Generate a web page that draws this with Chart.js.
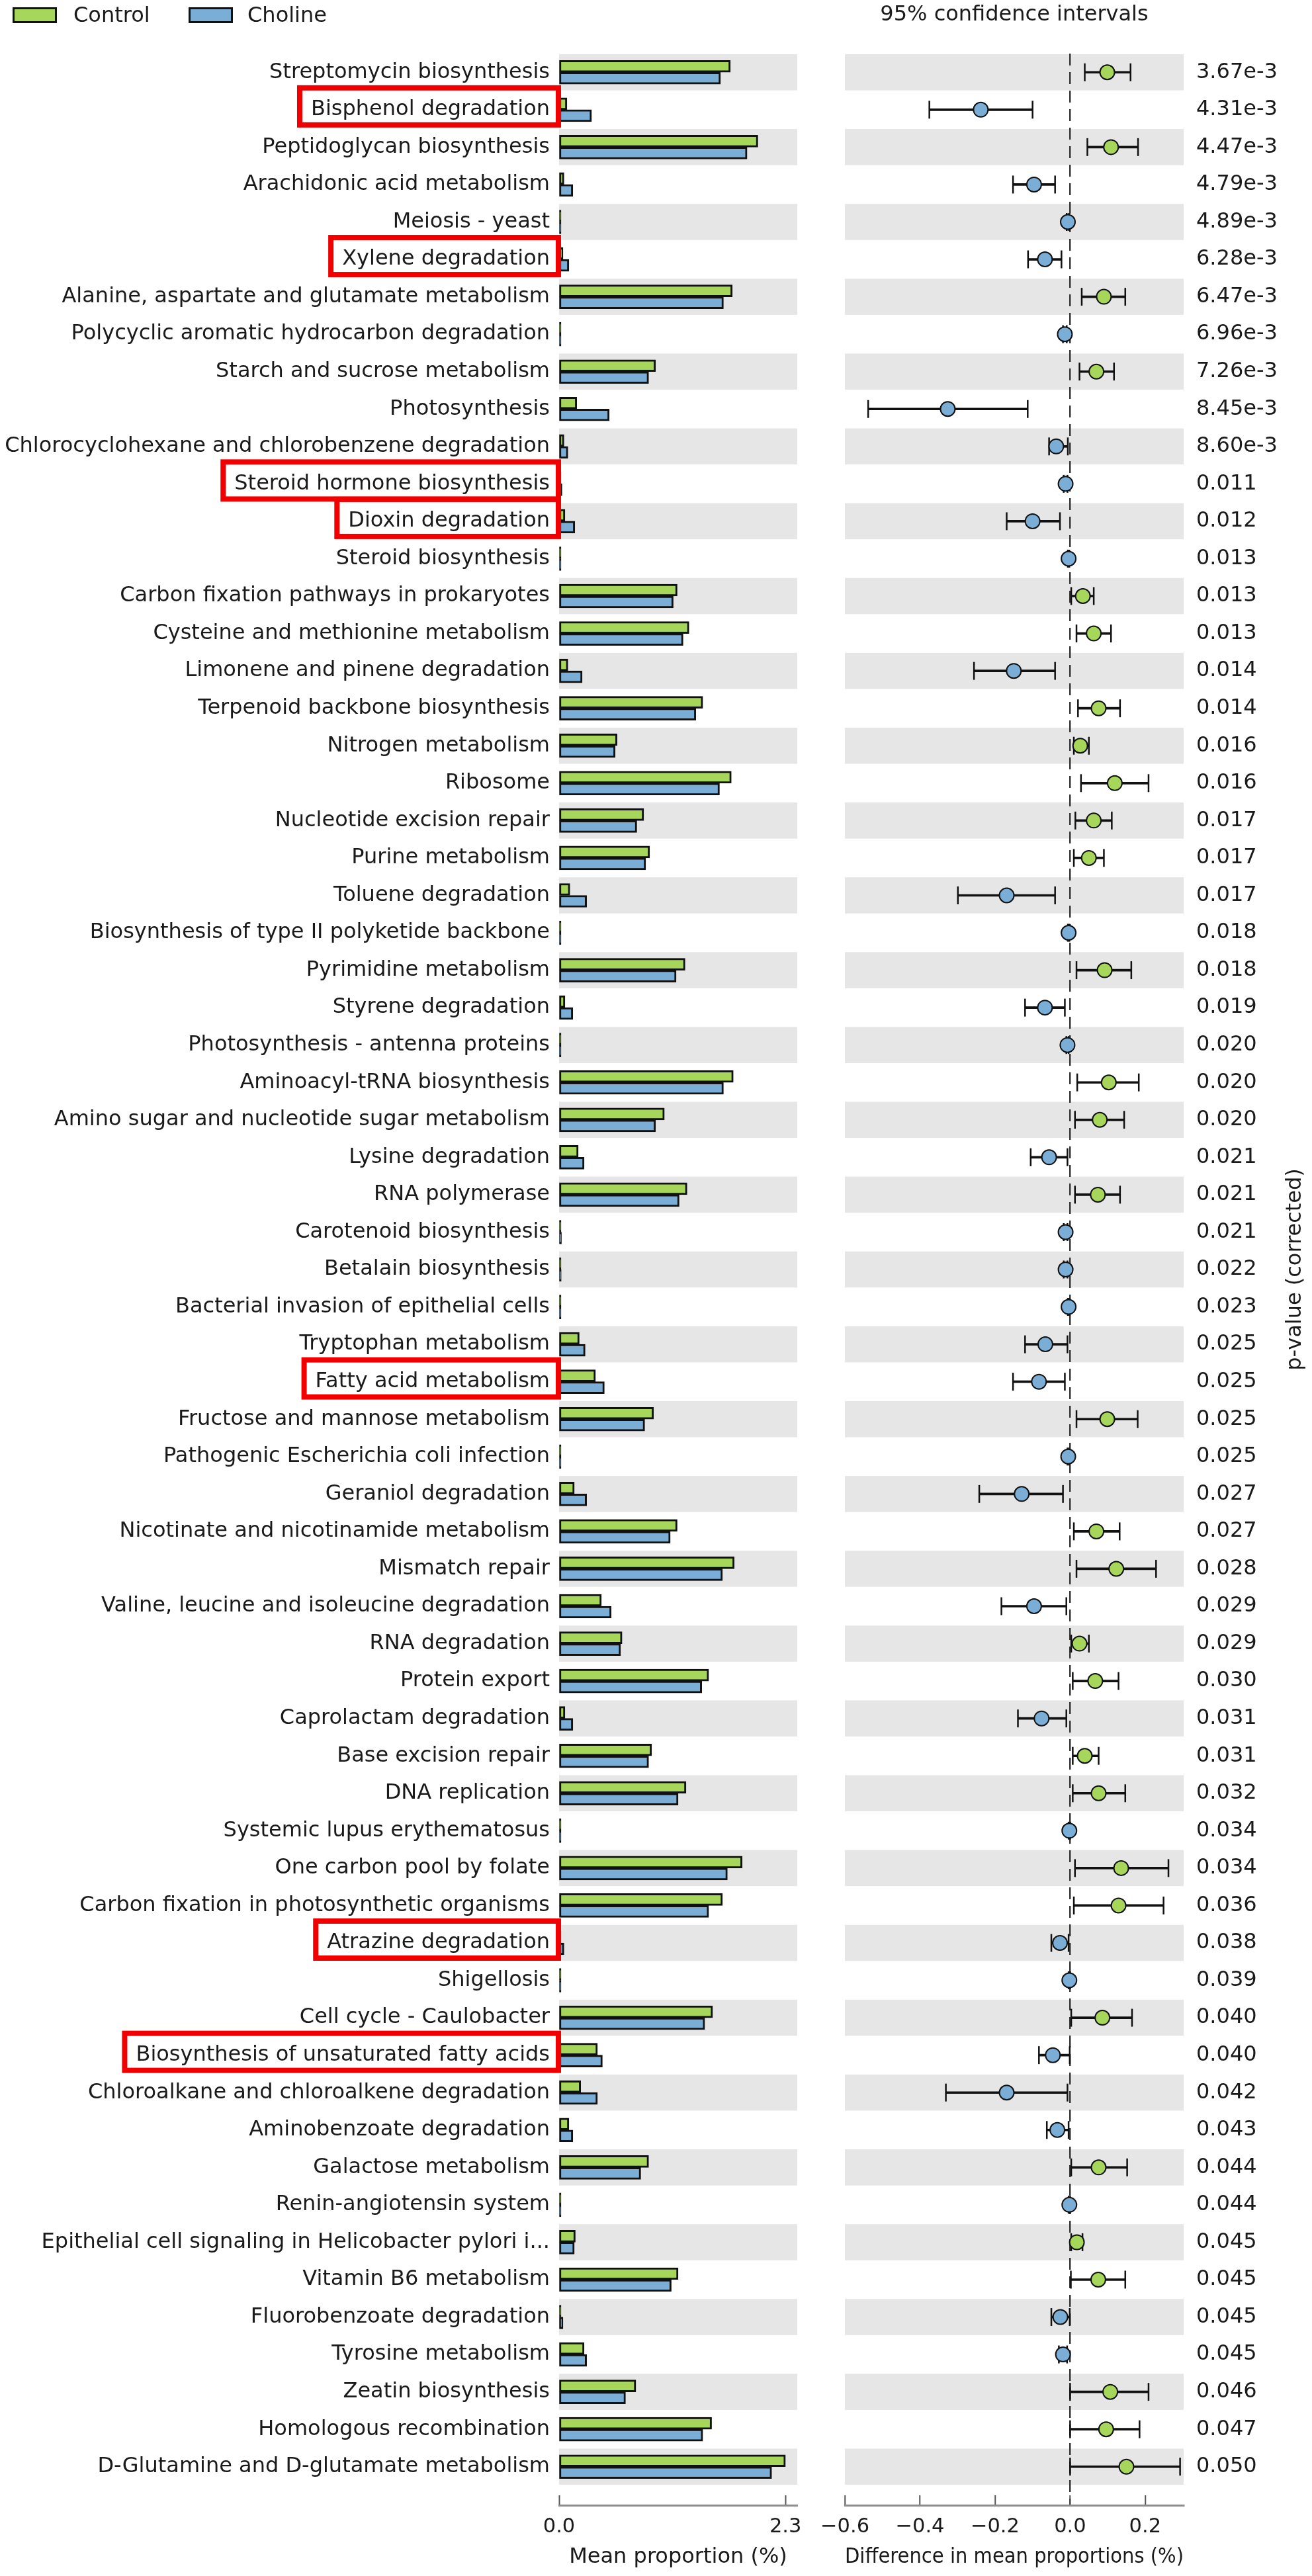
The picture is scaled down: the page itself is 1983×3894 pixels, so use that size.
<!DOCTYPE html>
<html>
<head>
<meta charset="utf-8">
<script src="https://cdn.jsdelivr.net/npm/chart.js@4.4.0/dist/chart.umd.min.js"></script>
<style>
  html, body { margin: 0; padding: 0; background: #fff; }
  body { width: 1983px; height: 3894px; position: relative; overflow: hidden; font-family: 'DejaVu Sans', sans-serif; color: #1a1a1a; }
  #left { position: absolute; left: 0; top: 0; }
  #right { position: absolute; left: 1170px; top: 0; }
  .key { position: absolute; top: 11px; width: 67px; height: 24px; box-sizing: border-box; border: 3px solid #111; }
  .keyText { position: absolute; top: 3px; font-size: 32px; line-height: 38px; }
</style>
</head>
<body>
<canvas id="left" width="1270" height="3894"></canvas>
<canvas id="right" width="813" height="3894"></canvas>
<div class="key" style="left:19px; background:#a6d75b"></div>
<div class="keyText" style="left:111px">Control</div>
<div class="key" style="left:285px; background:#7aaed6"></div>
<div class="keyText" style="left:374px">Choline</div>
<script>
const pathways = [
    'Streptomycin biosynthesis',
    'Bisphenol degradation',
    'Peptidoglycan biosynthesis',
    'Arachidonic acid metabolism',
    'Meiosis - yeast',
    'Xylene degradation',
    'Alanine, aspartate and glutamate metabolism',
    'Polycyclic aromatic hydrocarbon degradation',
    'Starch and sucrose metabolism',
    'Photosynthesis',
    'Chlorocyclohexane and chlorobenzene degradation',
    'Steroid hormone biosynthesis',
    'Dioxin degradation',
    'Steroid biosynthesis',
    'Carbon fixation pathways in prokaryotes',
    'Cysteine and methionine metabolism',
    'Limonene and pinene degradation',
    'Terpenoid backbone biosynthesis',
    'Nitrogen metabolism',
    'Ribosome',
    'Nucleotide excision repair',
    'Purine metabolism',
    'Toluene degradation',
    'Biosynthesis of type II polyketide backbone',
    'Pyrimidine metabolism',
    'Styrene degradation',
    'Photosynthesis - antenna proteins',
    'Aminoacyl-tRNA biosynthesis',
    'Amino sugar and nucleotide sugar metabolism',
    'Lysine degradation',
    'RNA polymerase',
    'Carotenoid biosynthesis',
    'Betalain biosynthesis',
    'Bacterial invasion of epithelial cells',
    'Tryptophan metabolism',
    'Fatty acid metabolism',
    'Fructose and mannose metabolism',
    'Pathogenic Escherichia coli infection',
    'Geraniol degradation',
    'Nicotinate and nicotinamide metabolism',
    'Mismatch repair',
    'Valine, leucine and isoleucine degradation',
    'RNA degradation',
    'Protein export',
    'Caprolactam degradation',
    'Base excision repair',
    'DNA replication',
    'Systemic lupus erythematosus',
    'One carbon pool by folate',
    'Carbon fixation in photosynthetic organisms',
    'Atrazine degradation',
    'Shigellosis',
    'Cell cycle - Caulobacter',
    'Biosynthesis of unsaturated fatty acids',
    'Chloroalkane and chloroalkene degradation',
    'Aminobenzoate degradation',
    'Galactose metabolism',
    'Renin-angiotensin system',
    'Epithelial cell signaling in Helicobacter pylori i...',
    'Vitamin B6 metabolism',
    'Fluorobenzoate degradation',
    'Tyrosine metabolism',
    'Zeatin biosynthesis',
    'Homologous recombination',
    'D-Glutamine and D-glutamate metabolism'
]

const pValues = [
    '3.67e-3','4.31e-3','4.47e-3','4.79e-3','4.89e-3','6.28e-3','6.47e-3','6.96e-3','7.26e-3','8.45e-3',
    '8.60e-3','0.011','0.012','0.013','0.013','0.013','0.014','0.014','0.016','0.016',
    '0.017','0.017','0.017','0.018','0.018','0.019','0.020','0.020','0.020','0.021',
    '0.021','0.021','0.022','0.023','0.025','0.025','0.025','0.025','0.027','0.027',
    '0.028','0.029','0.029','0.030','0.031','0.031','0.032','0.034','0.034','0.036',
    '0.038','0.039','0.040','0.040','0.042','0.043','0.044','0.044','0.045','0.045',
    '0.045','0.045','0.046','0.047','0.050'
]

const controlMean = [
    1.74, 0.08, 2.02, 0.05, 0.004, 0.04, 1.76, 0.004, 0.98, 0.18,
    0.05, 0.012, 0.06, 0.003, 1.20, 1.32, 0.09, 1.46, 0.59, 1.75,
    0.86, 0.92, 0.11, 0.002, 1.28, 0.06, 0.003, 1.77, 1.07, 0.195,
    1.30, 0.012, 0.010, 0.002, 0.205, 0.37, 0.96, 0.002, 0.155, 1.20,
    1.78, 0.43, 0.64, 1.52, 0.06, 0.94, 1.29, 0.002, 1.86, 1.66,
    0.02, 0.001, 1.56, 0.39, 0.22, 0.10, 0.91, 0.001, 0.165, 1.21,
    0.01, 0.255, 0.78, 1.55, 2.30
]

const cholineMean = [
    1.64, 0.33, 1.91, 0.14, 0.008, 0.10, 1.67, 0.012, 0.91, 0.51,
    0.09, 0.03, 0.16, 0.006, 1.16, 1.26, 0.235, 1.39, 0.57, 1.63,
    0.79, 0.88, 0.28, 0.006, 1.19, 0.14, 0.01, 1.67, 0.98, 0.255,
    1.22, 0.024, 0.022, 0.006, 0.265, 0.46, 0.87, 0.007, 0.28, 1.13,
    1.66, 0.53, 0.625, 1.45, 0.14, 0.91, 1.21, 0.004, 1.71, 1.52,
    0.05, 0.003, 1.48, 0.44, 0.39, 0.14, 0.83, 0.003, 0.155, 1.14,
    0.04, 0.28, 0.675, 1.46, 2.16
]

const diffMean = [
    0.099, -0.238, 0.109, -0.096, -0.006, -0.067, 0.090, -0.014, 0.070, -0.326,
    -0.037, -0.012, -0.100, -0.004, 0.034, 0.063, -0.150, 0.076, 0.027, 0.119,
    0.063, 0.050, -0.169, -0.004, 0.092, -0.067, -0.007, 0.103, 0.079, -0.056,
    0.074, -0.012, -0.012, -0.004, -0.066, -0.083, 0.099, -0.005, -0.129, 0.070,
    0.123, -0.096, 0.025, 0.067, -0.076, 0.039, 0.076, -0.002, 0.136, 0.129,
    -0.027, -0.002, 0.086, -0.046, -0.169, -0.034, 0.076, -0.002, 0.018, 0.075,
    -0.026, -0.019, 0.107, 0.096, 0.150
]

const ciLow = [
    0.039, -0.375, 0.046, -0.152, -0.009, -0.112, 0.031, -0.019, 0.025, -0.538,
    -0.056, -0.017, -0.169, -0.006, 0.003, 0.017, -0.256, 0.021, 0.010, 0.029,
    0.014, 0.010, -0.299, -0.006, 0.017, -0.120, -0.010, 0.019, 0.013, -0.105,
    0.013, -0.017, -0.017, -0.006, -0.120, -0.152, 0.017, -0.007, -0.242, 0.010,
    0.017, -0.183, 0.003, 0.007, -0.139, 0.007, 0.007, -0.004, 0.013, 0.010,
    -0.050, -0.004, 0.003, -0.083, -0.331, -0.062, 0.003, -0.004, 0.003, 0.002,
    -0.050, -0.030, 0.000, 0.000, 0.000
]

const ciHigh = [
    0.161, -0.100, 0.181, -0.040, -0.003, -0.023, 0.147, -0.009, 0.117, -0.113,
    -0.006, -0.007, -0.027, -0.002, 0.063, 0.109, -0.040, 0.133, 0.050, 0.209,
    0.111, 0.090, -0.040, -0.002, 0.163, -0.014, -0.004, 0.183, 0.144, -0.007,
    0.133, -0.007, -0.007, -0.002, -0.007, -0.014, 0.180, -0.003, -0.019, 0.132,
    0.229, -0.010, 0.050, 0.129, -0.010, 0.076, 0.147, 0.000, 0.262, 0.249,
    -0.004, 0.000, 0.165, -0.001, -0.007, -0.004, 0.152, 0.000, 0.033, 0.147,
    -0.001, -0.008, 0.209, 0.185, 0.293
]

const meanTicks = [0, 2.3]
const diffTicks = [-0.6, -0.4, -0.2, 0, 0.2]

// labels boxed in red in the figure
const highlighted = [
    'Bisphenol degradation',
    'Xylene degradation',
    'Steroid hormone biosynthesis',
    'Dioxin degradation',
    'Fatty acid metabolism',
    'Atrazine degradation',
    'Biosynthesis of unsaturated fatty acids'
]

const GREEN = '#a6d75b'
const BLUE = '#7aaed6'
const EDGE = '#111111'
const FONT = "'DejaVu Sans', sans-serif"
const FSIZE = 32

Chart.defaults.font.family = FONT
Chart.defaults.font.size = FSIZE
Chart.defaults.color = '#1a1a1a'

// rows: index 0 at top, extra space under the last row for the offset axis line
const ROW_MIN = -0.5
const ROW_MAX = 65.03

function fmtTick(v){
    return (v < 0 ? '\u2212' : '') + Math.abs(v).toFixed(1)
}

const bandsPlugin = {
    id: 'bands',
    beforeDraw(chart){
        const ctx = chart.ctx
        const a = chart.chartArea
        const ys = chart.scales.y
        ctx.save()
        ctx.fillStyle = '#e6e6e6'
        pathways.forEach((p, i) => {
            if (i % 2) return
            const t = ys.getPixelForValue(i - 0.5)
            const b = ys.getPixelForValue(i + 0.5)
            ctx.fillRect(a.left, t + 1, a.right - a.left, b - t - 2)
        })
        ctx.restore()
    }
}

const redBoxPlugin = {
    id: 'redBox',
    afterDraw(chart){
        const ctx = chart.ctx
        const ys = chart.scales.y
        ctx.save()
        ctx.font = FSIZE + 'px ' + FONT
        ctx.strokeStyle = '#f00000'
        ctx.lineWidth = 8
        highlighted.forEach(name => {
            const i = pathways.indexOf(name)
            const c = ys.getPixelForValue(i)
            const textRight = ys.right - 14
            const left = textRight - ctx.measureText(name).width - 17
            const right = ys.right - 1
            ctx.strokeRect(left, c - 33, right - left, 56)
        })
        ctx.restore()
    }
}

const pTitlePlugin = {
    id: 'pTitle',
    afterDraw(chart){
        const ctx = chart.ctx
        const ys = chart.scales.y
        const y = (ys.getPixelForValue(-0.5) + ys.getPixelForValue(pathways.length - 0.5)) / 2
        ctx.save()
        ctx.translate(chart.scales.yp.right - 25, y)
        ctx.rotate(-Math.PI / 2)
        ctx.textAlign = 'center'
        ctx.textBaseline = 'middle'
        ctx.font = FSIZE + 'px ' + FONT
        ctx.fillStyle = '#1a1a1a'
        ctx.fillText('p-value (corrected)', 0, 0)
        ctx.restore()
    }
}

function rowTicks(scale){
    scale.ticks = pathways.map((p, i) => ({value: i}))
}

function rowAxis(extra){
    return Object.assign({
        type: 'linear',
        reverse: true,
        offset: false,
        min: ROW_MIN,
        max: ROW_MAX,
        grid: { display: false, drawTicks: false, tickLength: 0, offset: false },
        border: { display: false }
    }, extra)
}

function bottomAxis(min, max, ticks, title){
    return {
        type: 'linear',
        offset: false,
        min: min,
        max: max,
        afterBuildTicks: s => { s.ticks = ticks.map(v => ({value: v})) },
        afterFit: s => { s.height = 107 },
        grid: {
            offset: false,
            drawOnChartArea: false,
            drawTicks: true,
            tickLength: -15,
            tickColor: '#555555',
            tickWidth: 2
        },
        border: { display: true, color: '#8c8c8c', width: 3 },
        ticks: { padding: 30, font: {size: 30.5}, color: '#1a1a1a', callback: fmtTick },
        title: { display: true, text: title, font: {size: FSIZE}, color: '#1a1a1a', padding: {top: 0, bottom: 9} }
    }
}

function loadLeftChart(){

    const ctx1 = document.getElementById('left').getContext('2d')

    const data = {
        datasets: [
            {
                label: 'Control',
                data: controlMean.map((v, i) => ({x: v, y: i})),
                backgroundColor: GREEN
            },
            {
                label: 'Choline',
                data: cholineMean.map((v, i) => ({x: v, y: i})),
                backgroundColor: BLUE
            }
        ]
    }

    const config = {
        type: 'bar',
        data: data,
        options: {
            responsive: false,
            animation: false,
            devicePixelRatio: 1,
            events: [],
            indexAxis: 'y',
            layout: { padding: {left: 0, right: 65, top: 81, bottom: 0} },
            datasets: {
                bar: {
                    barThickness: 18,
                    borderColor: EDGE,
                    borderWidth: 3,
                    borderSkipped: false,
                    minBarLength: 3
                }
            },
            plugins: { legend: {display: false}, tooltip: {enabled: false} },
            scales: {
                x: bottomAxis(0, 2.42, meanTicks, 'Mean proportion (%)'),
                y: rowAxis({
                    afterBuildTicks: rowTicks,
                    afterFit: s => { s.width = 845 },
                    ticks: { autoSkip: false, padding: 14, color: '#1a1a1a', callback: v => pathways[v] }
                })
            }
        },
        plugins: [bandsPlugin, redBoxPlugin]
    }

    new Chart(ctx1, config)
}

function loadRightChart(){

    const ctx2 = document.getElementById('right').getContext('2d')

    const data = {
        datasets: [
            {
                type: 'scatter',
                label: 'Difference',
                data: diffMean.map((v, i) => ({x: v, y: i})),
                pointRadius: 11,
                pointHoverRadius: 11,
                backgroundColor: c => diffMean[c.dataIndex] >= 0 ? GREEN : BLUE,
                borderColor: EDGE,
                borderWidth: 2,
                order: 0
            },
            {
                type: 'scatter',
                label: 'CI low',
                data: ciLow.map((v, i) => ({x: v, y: i})),
                pointStyle: 'line',
                rotation: 90,
                pointRadius: 13.5,
                borderColor: EDGE,
                borderWidth: 2.5,
                order: 1
            },
            {
                type: 'scatter',
                label: 'CI high',
                data: ciHigh.map((v, i) => ({x: v, y: i})),
                pointStyle: 'line',
                rotation: 90,
                pointRadius: 13.5,
                borderColor: EDGE,
                borderWidth: 2.5,
                order: 1
            },
            {
                type: 'bar',
                label: '95% CI',
                indexAxis: 'y',
                data: ciLow.map((v, i) => ({x: [v, ciHigh[i]], y: i})),
                backgroundColor: EDGE,
                barThickness: 3,
                order: 2
            }
        ]
    }

    const xAxis = bottomAxis(-0.6, 0.3025, diffTicks, 'Difference in mean proportions (%)')
    xAxis.grid.drawOnChartArea = true
    xAxis.grid.color = c => (c.tick && c.tick.value === 0) ? '#3a3a3a' : 'rgba(0,0,0,0)'
    xAxis.grid.lineWidth = 2.5
    xAxis.border.dash = [18, 10]

    const config = {
        type: 'bar',
        data: data,
        options: {
            responsive: false,
            animation: false,
            devicePixelRatio: 1,
            events: [],
            layout: { padding: {left: 107, right: 0, top: 0, bottom: 0} },
            plugins: {
                legend: {display: false},
                tooltip: {enabled: false},
                title: {
                    display: true,
                    text: '95% confidence intervals',
                    fullSize: false,
                    color: '#1a1a1a',
                    font: {size: FSIZE, weight: 'normal'},
                    padding: {top: 3, bottom: 39.6}
                }
            },
            scales: {
                x: xAxis,
                y: rowAxis({ display: false }),
                yp: rowAxis({
                    position: 'right',
                    afterBuildTicks: rowTicks,
                    afterFit: s => { s.width = 194 },
                    ticks: { autoSkip: false, padding: 19, color: '#1a1a1a', callback: v => pValues[v] }
                })
            }
        },
        plugins: [bandsPlugin, pTitlePlugin]
    }

    new Chart(ctx2, config)
}

function loadCharts(){
    loadLeftChart()
    loadRightChart()
}

loadCharts()
</script>
</body>
</html>
